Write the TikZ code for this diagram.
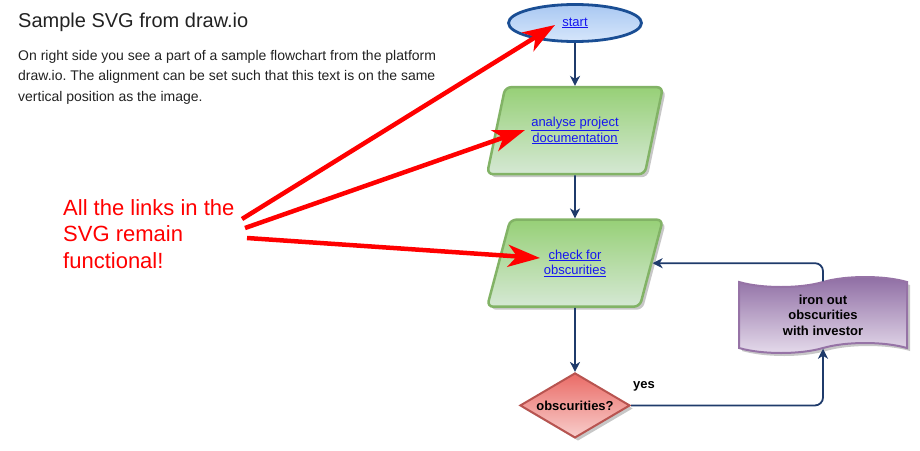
\documentclass[tikz,border=0pt]{standalone}
\usepackage{fontspec}
\setmainfont{Liberation Sans}
\usetikzlibrary{shapes,arrows.meta,positioning,calc,shadows}

\definecolor{navy}{HTML}{1F3B6B}
\definecolor{linkblue}{HTML}{1515F0}
\definecolor{startline}{HTML}{1A4E94}
\definecolor{starttop}{HTML}{A9C8F2}
\definecolor{startbot}{HTML}{D6E6FB}
\definecolor{greenline}{HTML}{82B366}
\definecolor{greentop}{HTML}{97D077}
\definecolor{greenbot}{HTML}{D5E8D4}
\definecolor{redline}{HTML}{B85450}
\definecolor{redtop}{HTML}{EA6B66}
\definecolor{redbot}{HTML}{F8CECC}
\definecolor{purpleline}{HTML}{9673A6}
\definecolor{purpletop}{HTML}{8E6CA3}
\definecolor{purplebot}{HTML}{E6DCEC}
\definecolor{heading}{HTML}{222222}
\frenchspacing

\begin{document}
\begin{tikzpicture}[
    x=1pt, y=-1pt,
    shade/.style={drop shadow={shadow xshift=3pt, shadow yshift=-3pt, fill=black, opacity=0.22}},
    flow/.style={draw=navy, line width=1.8pt, rounded corners=8pt, -{Stealth[length=10pt,width=10pt,inset=3pt]}},
    hint/.style={draw=red, line width=4.5pt, -{Stealth[length=32pt,width=22pt,inset=9pt]}},
    link/.style={text=linkblue, font=\fontsize{13}{15.5}\selectfont, align=center},
    terminal/.style={ellipse, minimum width=133pt, minimum height=37pt, draw=startline,
        line width=2.8pt, top color=starttop, bottom color=startbot, link},
    io/.style={trapezium, trapezium left angle=70, trapezium right angle=110,
        trapezium stretches=true, minimum width=176pt, minimum height=87pt,
        rounded corners=6pt, draw=greenline, line width=2.5pt,
        top color=greentop, bottom color=greenbot, shade, link},
    decision/.style={diamond, aspect=1.7, minimum width=110pt, minimum height=65pt, inner sep=0pt,
        draw=redline, line width=2pt, top color=redtop, bottom color=redbot, shade,
        font=\fontsize{13}{15.5}\selectfont\bfseries},
    task/.style={tape, minimum width=168pt, minimum height=76pt, tape bend height=10pt,
        draw=purpleline, line width=2pt, top color=purpletop, bottom color=purplebot, shade,
        align=center, font=\fontsize{13}{15.5}\selectfont\bfseries}
]
    \useasboundingbox (0,0) rectangle (920,450);

    % text on the left
    \node[anchor=base west, inner sep=0pt, text=heading, font=\fontsize{20}{24}\selectfont]
        (title) at (18,27) {Sample SVG from draw.io};
    \node[anchor=north west, inner sep=0pt, text=heading, align=left,
        font=\fontsize{14}{20.5}\selectfont] (intro) at (18,50)
        {On right side you see a part of a sample flowchart from the platform\\
         draw.io. The alignment can be set such that this text is on the same\\
         vertical position as the image.};
    \node[anchor=west, inner sep=0pt, text=red, align=left,
        font=\fontsize{22}{26.5}\selectfont] (note) at (63,234)
        {All the links in the\\SVG remain\\functional!};

    % flowchart
    \node[terminal] (start) at (575,23) {\underline{start}};
    \node[io, below=43pt of start] (analyse) {\underline{analyse project}\\\underline{documentation}};
    \node[io, below=43pt of analyse] (check) {\underline{check for}\\\underline{obscurities}};
    \node[decision, below=64pt of check] (obsc) {obscurities?};
    \node[task] (iron) at (823,315) {iron out\\obscurities\\with investor};
    \node[anchor=west, inner sep=0pt, font=\fontsize{13}{15.5}\selectfont\bfseries]
        (yes) at (633,386) {yes};

    \draw[flow] (start) -- (analyse);
    \draw[flow] (analyse) -- (check);
    \draw[flow] (check) -- (obsc);
    \draw[flow] (obsc.east) -| (iron.south);
    \draw[flow] (iron.north) |- (check.east);

    % red hints
    \coordinate (a1) at (242,219);
    \coordinate (a2) at (245,228);
    \coordinate (a3) at (247,238);
    \coordinate (t1) at (555,25);
    \coordinate (t2) at (525,130);
    \coordinate (t3) at (540,258);
    \draw[hint] (a1) -- (t1);
    \draw[hint] (a2) -- (t2);
    \draw[hint] (a3) -- (t3);
\end{tikzpicture}
\end{document}
